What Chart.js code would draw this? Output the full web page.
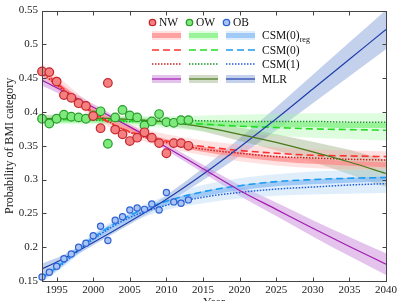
<!DOCTYPE html>
<html>
<head>
<meta charset="utf-8">
<script src="https://cdn.jsdelivr.net/npm/chart.js@4.4.1/dist/chart.umd.min.js"></script>
<style>
  html, body { margin: 0; padding: 0; background: #fff; }
  #wrap { width: 401px; height: 301px; }
</style>
</head>
<body>
<div id="wrap"><canvas id="bmi" width="401" height="301"></canvas></div>
<script>
// observed proportions (survey years)
const years = [1993, 1994, 1995, 1996, 1997, 1998, 1999, 2000, 2001, 2002, 2003,
  2004, 2005, 2006, 2007, 2008, 2009, 2010, 2011, 2012, 2013];
const nwObs = [0.460, 0.459, 0.445, 0.425, 0.421, 0.413, 0.409, 0.394, 0.376, 0.443, 0.374,
  0.367, 0.357, 0.362, 0.370, 0.362, 0.354, 0.339, 0.354, 0.354, 0.350];
const owObs = [0.390, 0.383, 0.390, 0.396, 0.393, 0.392, 0.390, 0.395, 0.401, 0.353, 0.392,
  0.403, 0.395, 0.392, 0.380, 0.386, 0.397, 0.385, 0.384, 0.388, 0.388];
const obObs = [0.156, 0.163, 0.172, 0.183, 0.190, 0.200, 0.206, 0.217, 0.231, 0.210, 0.240,
  0.245, 0.255, 0.258, 0.256, 0.264, 0.255, 0.281, 0.267, 0.265, 0.270];

// model curves (fitted + projection)
const projYears = [1993, 1995, 2000, 2005, 2010, 2015, 2020, 2025, 2030, 2035, 2040];

const mlrNW = [0.447, 0.436, 0.407, 0.378, 0.348, 0.316, 0.284, 0.256, 0.228, 0.201, 0.175];
const mlrNWci = [0.008, 0.007, 0.005, 0.004, 0.005, 0.006, 0.008, 0.010, 0.012, 0.014, 0.016];
const mlrOW = [0.390, 0.391, 0.391, 0.389, 0.385, 0.378, 0.367, 0.355, 0.341, 0.326, 0.309];
const mlrOWci = [0.006, 0.005, 0.004, 0.004, 0.005, 0.007, 0.010, 0.012, 0.015, 0.018, 0.020];
const mlrOB = [0.168, 0.178, 0.207, 0.238, 0.271, 0.308, 0.348, 0.390, 0.434, 0.478, 0.522];
const mlrOBci = [0.008, 0.006, 0.004, 0.004, 0.006, 0.009, 0.013, 0.017, 0.021, 0.025, 0.029];

const regNW = [0.460, 0.442, 0.401, 0.373, 0.356, 0.345, 0.337, 0.331, 0.327, 0.324, 0.322];
const regNWlo = [0.450, 0.432, 0.392, 0.364, 0.347, 0.336, 0.327, 0.321, 0.317, 0.315, 0.315];
const regNWhi = [0.472, 0.454, 0.410, 0.382, 0.367, 0.358, 0.352, 0.348, 0.345, 0.343, 0.342];
const regOW = [0.388, 0.388, 0.388, 0.387, 0.385, 0.383, 0.382, 0.381, 0.381, 0.380, 0.380];
const regOWlo = [0.382, 0.382, 0.382, 0.380, 0.376, 0.372, 0.368, 0.365, 0.362, 0.360, 0.358];
const regOWhi = [0.394, 0.394, 0.394, 0.394, 0.394, 0.395, 0.396, 0.397, 0.398, 0.398, 0.398];
const regOB = [0.155, 0.170, 0.213, 0.245, 0.266, 0.279, 0.288, 0.294, 0.297, 0.299, 0.301];
const regOBlo = [0.148, 0.163, 0.205, 0.236, 0.255, 0.265, 0.272, 0.276, 0.278, 0.279, 0.280];
const regOBhi = [0.162, 0.177, 0.220, 0.253, 0.276, 0.292, 0.302, 0.308, 0.312, 0.314, 0.315];

const csm0NW = [0.460, 0.443, 0.398, 0.371, 0.357, 0.349, 0.343, 0.339, 0.336, 0.335, 0.334];
const csm0OW = [0.388, 0.389, 0.389, 0.387, 0.385, 0.382, 0.379, 0.377, 0.375, 0.374, 0.373];
const csm0OB = [0.155, 0.170, 0.214, 0.247, 0.268, 0.282, 0.291, 0.297, 0.300, 0.302, 0.303];
const csm1NW = [0.458, 0.440, 0.400, 0.370, 0.355, 0.345, 0.339, 0.334, 0.332, 0.330, 0.329];
const csm1OW = [0.388, 0.389, 0.388, 0.386, 0.388, 0.387, 0.386, 0.386, 0.386, 0.385, 0.385];
const csm1OB = [0.155, 0.169, 0.212, 0.244, 0.262, 0.274, 0.281, 0.286, 0.289, 0.292, 0.294];

const xTicks = [1995, 2000, 2005, 2010, 2015, 2020, 2025, 2030, 2035, 2040];
const yTicks = [0.15, 0.2, 0.25, 0.3, 0.35, 0.4, 0.45, 0.5, 0.55];
const yTickLabels = ["0.15", "0.2", "0.25", "0.3", "0.35", "0.4", "0.45", "0.5", "0.55"];

const serif = "'Liberation Serif', 'Times New Roman', serif";

const col = {
  nw: { fill: "#f48080", edge: "#c4262e", reg: "rgba(255,140,140,0.75)", band: "rgba(255,170,170,0.35)",
        dash: "#ff3030", dot: "#cc2020", mlr: "#a11cb0", mlrBand: "rgba(195,125,215,0.45)" },
  ow: { fill: "#7eea7e", edge: "#2a9c2a", reg: "rgba(130,240,130,0.75)", band: "rgba(160,245,160,0.35)",
        dash: "#22dd22", dot: "#1f9a2e", mlr: "#4a7a1c", mlrBand: "rgba(125,155,100,0.35)" },
  ob: { fill: "#a9c4f2", edge: "#2f62d4", reg: "rgba(140,190,245,0.75)", band: "rgba(165,205,245,0.35)",
        dash: "#1a9cf0", dot: "#1e5fd8", mlr: "#1f3faa", mlrBand: "rgba(105,140,210,0.4)" },
};

function pts(xs, ys) {
  return xs.map((v, i) => ({ x: v, y: ys[i] }));
}
function offset(ys, ci, s) {
  return ys.map((v, i) => v + s * ci[i]);
}

let datasets = [];
function addBand(lo, hi, color) {
  datasets.push({ data: pts(projYears, lo), borderWidth: 0, pointRadius: 0, fill: false,
    order: 6, cubicInterpolationMode: "monotone" });
  datasets.push({ data: pts(projYears, hi), borderWidth: 0, pointRadius: 0, fill: "-1",
    backgroundColor: color, order: 6, cubicInterpolationMode: "monotone" });
}
function addLine(ys, color, width, dash, order) {
  datasets.push({ data: pts(projYears, ys), borderColor: color, borderWidth: width,
    borderDash: dash, pointRadius: 0, fill: false, order: order,
    cubicInterpolationMode: "monotone" });
}
function addPoints(ys, c, r) {
  datasets.push({ data: pts(years, ys), showLine: false, pointRadius: r,
    pointBackgroundColor: c.fill, pointBorderColor: c.edge, pointBorderWidth: 1.2,
    order: 1, clip: 10 });
}

// CSM(0)reg bands and thick lines
addBand(regNWlo, regNWhi, col.nw.band);
addBand(regOWlo, regOWhi, col.ow.band);
addBand(regOBlo, regOBhi, col.ob.band);
// MLR bands
addBand(offset(mlrNW, mlrNWci, -1), offset(mlrNW, mlrNWci, 1), col.nw.mlrBand);
addBand(offset(mlrOW, mlrOWci, -1), offset(mlrOW, mlrOWci, 1), col.ow.mlrBand);
addBand(offset(mlrOB, mlrOBci, -1), offset(mlrOB, mlrOBci, 1), col.ob.mlrBand);

addLine(regNW, col.nw.reg, 5, [], 5);
addLine(regOW, col.ow.reg, 5, [], 5);
addLine(regOB, col.ob.reg, 5, [], 5);

addLine(csm0NW, col.nw.dash, 1.6, [7, 4], 3);
addLine(csm0OW, col.ow.dash, 1.6, [7, 4], 3);
addLine(csm0OB, col.ob.dash, 1.6, [7, 4], 3);
addLine(csm1NW, col.nw.dot, 1.5, [1.5, 1.5], 3);
addLine(csm1OW, col.ow.dot, 1.5, [1.5, 1.5], 3);
addLine(csm1OB, col.ob.dot, 1.5, [1.5, 1.5], 3);

addLine(mlrNW, col.nw.mlr, 1.2, [], 2);
addLine(mlrOW, col.ow.mlr, 1.2, [], 2);
addLine(mlrOB, col.ob.mlr, 1.2, [], 2);

addPoints(nwObs, col.nw, 4.3);
addPoints(owObs, col.ow, 4.3);
addPoints(obObs, col.ob, 3.1);

const frame = {
  id: "frame",
  afterDraw(chart) {
    const ctx = chart.ctx;
    const a = chart.chartArea;
    const sx = chart.scales.x;
    const sy = chart.scales.y;
    ctx.save();
    ctx.strokeStyle = "#444";
    ctx.lineWidth = 1;
    let l = Math.round(a.left) + 0.5, r = Math.round(a.right) + 0.5;
    let t = Math.round(a.top) + 0.5, b = Math.round(a.bottom) + 0.5;
    ctx.strokeRect(l, t, r - l, b - t);
    ctx.beginPath();
    xTicks.forEach((v) => {
      let px = Math.round(sx.getPixelForValue(v)) + 0.5;
      ctx.moveTo(px, b); ctx.lineTo(px, b - 4);
      ctx.moveTo(px, t); ctx.lineTo(px, t + 4);
    });
    yTicks.forEach((v) => {
      let py = Math.round(sy.getPixelForValue(v)) + 0.5;
      ctx.moveTo(l, py); ctx.lineTo(l + 4, py);
      ctx.moveTo(r, py); ctx.lineTo(r - 4, py);
    });
    ctx.stroke();

    // legend
    const cols = [col.nw, col.ow, col.ob];
    const names = ["NW", "OW", "OB"];
    const x0 = [152, 189, 226];
    const w = 29;
    ctx.font = "11.5px " + serif;
    ctx.textBaseline = "middle";
    ctx.fillStyle = "#111";
    cols.forEach((c, i) => {
      ctx.beginPath();
      ctx.arc(x0[i] + 0.5, 22.5, 3.2, 0, Math.PI * 2);
      ctx.fillStyle = c.fill; ctx.fill();
      ctx.strokeStyle = c.edge; ctx.lineWidth = 1.3; ctx.stroke();
      ctx.fillStyle = "#111";
      ctx.fillText(names[i], x0[i] + 7, 23);

      ctx.fillStyle = c.band;
      ctx.fillRect(x0[i], 31, w, 9);
      ctx.strokeStyle = c.reg; ctx.lineWidth = 5;
      ctx.beginPath(); ctx.moveTo(x0[i], 35.5); ctx.lineTo(x0[i] + w, 35.5); ctx.stroke();

      ctx.strokeStyle = c.dash; ctx.lineWidth = 1.6; ctx.setLineDash([7, 4]);
      ctx.beginPath(); ctx.moveTo(x0[i], 50); ctx.lineTo(x0[i] + w, 50); ctx.stroke();
      ctx.strokeStyle = c.dot; ctx.lineWidth = 1.5; ctx.setLineDash([1.5, 1.5]);
      ctx.beginPath(); ctx.moveTo(x0[i], 64); ctx.lineTo(x0[i] + w, 64); ctx.stroke();
      ctx.setLineDash([]);

      ctx.fillStyle = c.mlrBand;
      ctx.fillRect(x0[i], 75, w, 8);
      ctx.strokeStyle = c.mlr; ctx.lineWidth = 1.2;
      ctx.beginPath(); ctx.moveTo(x0[i], 79); ctx.lineTo(x0[i] + w, 79); ctx.stroke();
    });
    ctx.fillStyle = "#111";
    ctx.fillText("CSM(0)", 262, 35.5);
    let wReg = ctx.measureText("CSM(0)").width;
    ctx.font = "8px " + serif;
    ctx.fillText("reg", 262 + wReg, 40);
    ctx.font = "11.5px " + serif;
    ctx.fillText("CSM(0)", 262, 50.5);
    ctx.fillText("CSM(1)", 262, 64.5);
    ctx.fillText("MLR", 262, 79.5);
    ctx.restore();
  },
};

new Chart("bmi", {
  type: "line",
  data: { datasets: datasets },
  options: {
    responsive: false,
    devicePixelRatio: 1,
    animation: false,
    layout: { padding: { top: 9, right: 15, left: 0, bottom: 0 } },
    plugins: {
      legend: { display: false },
      tooltip: { enabled: false },
    },
    scales: {
      x: {
        type: "linear",
        min: 1993,
        max: 2040,
        afterBuildTicks: (s) => { s.ticks = xTicks.map((v) => ({ value: v })); },
        afterFit: (s) => { s.height = 20; },
        grid: { display: false, drawTicks: false },
        border: { display: false },
        ticks: {
          font: { family: serif, size: 11 },
          color: "#222",
          padding: 3,
          maxRotation: 0,
          autoSkip: false,
          callback: (v) => String(v),
        },
        title: {
          display: true,
          text: "Year",
          font: { family: serif, size: 12 },
          color: "#222",
          padding: { top: 0, bottom: -9 },
        },
      },
      y: {
        type: "linear",
        min: 0.15,
        max: 0.55,
        afterBuildTicks: (s) => { s.ticks = yTicks.map((v) => ({ value: v })); },
        afterFit: (s) => { s.width = 42; },
        grid: { display: false, drawTicks: false },
        border: { display: false },
        ticks: {
          font: { family: serif, size: 11 },
          color: "#222",
          padding: 4,
          callback: (v, i) => yTickLabels[i],
        },
        title: {
          display: true,
          text: "Probability of BMI category",
          font: { family: serif, size: 12 },
          color: "#222",
          padding: { top: 3, bottom: 0 },
        },
      },
    },
  },
  plugins: [frame],
});
</script>
</body>
</html>
